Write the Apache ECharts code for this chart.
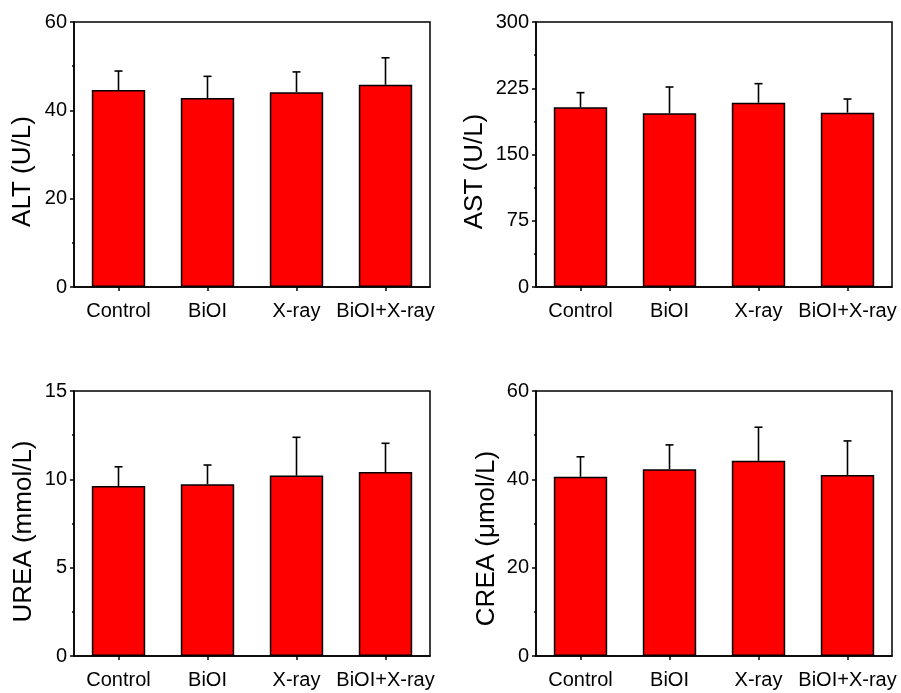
<!DOCTYPE html>
<html>
<head>
<meta charset="utf-8">
<script src="https://cdn.jsdelivr.net/npm/echarts@6/dist/echarts.min.js"></script>
<style>
html,body{margin:0;padding:0;background:#fff;}
#chart{width:901px;height:693px;}
</style>
</head>
<body>
<div id="chart"></div>
<script>
const categories = ['Control', 'BiOI', 'X-ray', 'BiOI+X-ray'];

const altMean = [44.6, 42.8, 44.1, 45.8];
const altSD = [4.3, 4.9, 4.6, 6.1];
const astMean = [203.4, 196.6, 208.7, 197.4];
const astSD = [16.6, 29.8, 21.5, 15.4];
const ureaMean = [9.62, 9.72, 10.21, 10.41];
const ureaSD = [1.09, 1.09, 2.17, 1.63];
const creaMean = [40.6, 42.3, 44.2, 41.0];
const creaSD = [4.5, 5.5, 7.6, 7.7];

const panelTitles = ['ALT (U/L)', 'AST (U/L)', 'UREA (mmol/L)', 'CREA (\u03bcmol/L)'];
const yMax = [60, 300, 15, 60];
const yInterval = [20, 75, 5, 20];

const panels = [
  {mean: altMean, sd: altSD},
  {mean: astMean, sd: astSD},
  {mean: ureaMean, sd: ureaSD},
  {mean: creaMean, sd: creaSD}
];

const FONT = '"Liberation Sans", Arial, sans-serif';
const layout = [
  {left: 74, top: 22, gap: 38, shift: 34},
  {left: 536, top: 22, gap: 48, shift: 34},
  {left: 74, top: 391, gap: 37, shift: 16},
  {left: 536, top: 391, gap: 36, shift: 30}
];

const grids = [], xAxes = [], yAxes = [], series = [];
panels.forEach((p, i) => {
  const L = layout[i];
  grids.push({left: L.left, top: L.top, width: 356, height: 265, show: true,
    borderColor: '#000', borderWidth: 1.5, backgroundColor: 'transparent'});
  xAxes.push({type: 'category', gridIndex: i, data: categories,
    axisLine: {lineStyle: {color: '#000', width: 1.5}},
    axisTick: {show: true, alignWithLabel: true, length: 4, lineStyle: {color: '#000', width: 1.5}},
    axisLabel: {color: '#000', fontSize: 20, fontFamily: FONT, margin: 14, interval: 0}
  });
  yAxes.push({type: 'value', gridIndex: i, min: 0, max: yMax[i], interval: yInterval[i],
    name: panelTitles[i], nameLocation: 'middle', nameGap: L.gap,
    nameTextStyle: {color: '#000', fontSize: 26, fontFamily: FONT, padding: [0, L.shift, 0, 0]},
    axisLine: {show: true, lineStyle: {color: '#000', width: 1.5}},
    axisTick: {show: true, length: 4, lineStyle: {color: '#000', width: 1.5}},
    minorTick: {show: true, splitNumber: 2, length: 2, lineStyle: {color: '#000', width: 1.5}},
    splitLine: {show: false},
    axisLabel: {color: '#000', fontSize: 20, fontFamily: FONT, margin: 7}
  });
  series.push({type: 'bar', xAxisIndex: i, yAxisIndex: i, data: p.mean, barWidth: '60%',
    itemStyle: {color: '#ff0000', borderColor: '#000', borderWidth: 1.5}, silent: true});
  series.push({type: 'custom', xAxisIndex: i, yAxisIndex: i, z: 5, silent: true,
    data: p.mean.map((m, k) => [k, m, m + p.sd[k]]),
    renderItem: function (params, api) {
      const x = api.value(0);
      const lo = api.coord([x, api.value(1)]);
      const hi = api.coord([x, api.value(2)]);
      const style = {stroke: '#000', lineWidth: 1.6, fill: null};
      return {type: 'group', children: [
        {type: 'line', shape: {x1: lo[0], y1: lo[1], x2: hi[0], y2: hi[1]}, style: style},
        {type: 'line', shape: {x1: hi[0] - 4, y1: hi[1], x2: hi[0] + 4, y2: hi[1]}, style: style}
      ]};
    }
  });
});

const chart = echarts.init(document.getElementById('chart'), null, {renderer: 'canvas'});
chart.setOption({animation: false, backgroundColor: '#fff', grid: grids, xAxis: xAxes, yAxis: yAxes, series: series});
</script>
</body>
</html>
